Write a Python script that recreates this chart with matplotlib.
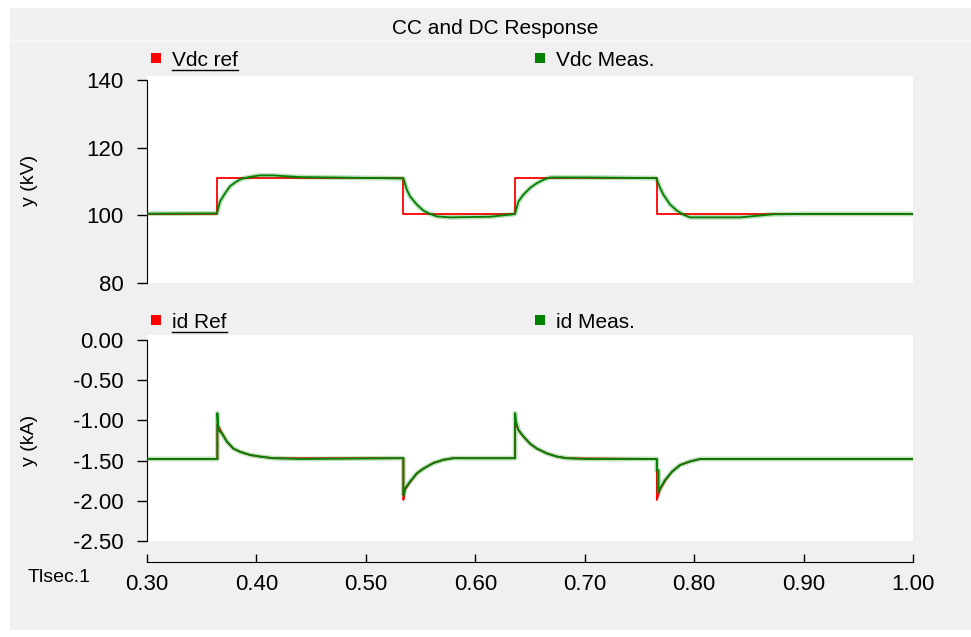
import numpy as np
import matplotlib.pyplot as plt
from matplotlib.patches import Rectangle
from matplotlib.lines import Line2D

plt.rcParams['font.family'] = ['Liberation Sans Narrow', 'Liberation Sans', 'DejaVu Sans']

# DC voltage reference and measurement (kV)
t_vref = [0.30, 0.364, 0.364, 0.534, 0.534, 0.636, 0.636, 0.766, 0.766, 1.00]
vdc_ref = [100.5, 100.5, 111.0, 111.0, 100.5, 100.5, 111.0, 111.0, 100.5, 100.5]

t_vmeas = [0.30, 0.364, 0.3667, 0.3713, 0.3759, 0.3804, 0.385, 0.3914, 0.403, 0.415,
           0.425, 0.44, 0.47, 0.5344, 0.5374, 0.5404, 0.5465, 0.5526, 0.5587, 0.5648,
           0.577, 0.6135, 0.6346, 0.6364, 0.6394, 0.644, 0.6501, 0.6562, 0.6622, 0.6684,
           0.70, 0.765, 0.766, 0.7689, 0.7719, 0.778, 0.7842, 0.7902, 0.7963, 0.842,
           0.8722, 0.90, 1.00]
vdc_meas = [100.5, 100.6, 104.1, 106.5, 108.6, 109.7, 110.6, 111.2, 111.8, 111.8,
            111.6, 111.3, 111.2, 110.9, 107.6, 105.6, 103.2, 101.4, 100.4, 99.7,
            99.4, 99.6, 100.3, 100.5, 104.1, 106.1, 108.1, 109.5, 110.5, 111.2,
            111.2, 111.0, 110.5, 108.1, 106.1, 103.2, 101.4, 100.2, 99.4, 99.4,
            100.3, 100.4, 100.4]

# d-axis current reference and measurement (kA)
t_iref = [0.30, 0.3643, 0.3643, 0.3683, 0.3728, 0.3789, 0.385, 0.3941, 0.4033, 0.4152,
          0.5343, 0.5343, 0.5358, 0.5404, 0.5465, 0.5526, 0.5617, 0.5709, 0.58, 0.6364,
          0.6364, 0.6394, 0.644, 0.6501, 0.6562, 0.6653, 0.6745, 0.6836, 0.7659, 0.7659,
          0.7689, 0.7735, 0.7796, 0.7872, 0.7963, 0.8055, 1.00]
id_ref = [-1.48, -1.48, -1.045, -1.15, -1.26, -1.35, -1.39, -1.43, -1.45, -1.47,
          -1.47, -1.99, -1.86, -1.77, -1.66, -1.60, -1.53, -1.49, -1.47, -1.47,
          -1.02, -1.12, -1.20, -1.29, -1.35, -1.41, -1.45, -1.47, -1.48, -1.99,
          -1.86, -1.75, -1.64, -1.555, -1.51, -1.48, -1.48]

t_imeas = [0.30, 0.3643, 0.3643, 0.3652, 0.3683, 0.3728, 0.3789, 0.385, 0.3941, 0.4033,
           0.4152, 0.44, 0.5343, 0.5343, 0.5358, 0.5404, 0.5465, 0.5526, 0.5617, 0.5709,
           0.58, 0.6364, 0.6364, 0.6373, 0.6394, 0.644, 0.6501, 0.6562, 0.6653, 0.6745,
           0.6836, 0.70, 0.7659, 0.7659, 0.7675, 0.7675, 0.7689, 0.7735, 0.7796, 0.7872,
           0.7963, 0.8055, 1.00]
id_meas = [-1.48, -1.48, -0.91, -1.12, -1.16, -1.26, -1.35, -1.39, -1.43, -1.45,
           -1.47, -1.48, -1.47, -1.93, -1.845, -1.76, -1.66, -1.60, -1.53, -1.49,
           -1.47, -1.47, -0.91, -1.02, -1.12, -1.20, -1.29, -1.35, -1.41, -1.45,
           -1.47, -1.48, -1.48, -1.62, -1.62, -1.89, -1.845, -1.74, -1.64, -1.555,
           -1.51, -1.48, -1.48]

x_ticks = [0.30, 0.40, 0.50, 0.60, 0.70, 0.80, 0.90, 1.00]
v_ticks = [80, 100, 120, 140]
i_ticks = [0.00, -0.50, -1.00, -1.50, -2.00, -2.50]

W, H = 971, 637
fig = plt.figure(figsize=(W / 100, H / 100), dpi=100, facecolor='white')

# grey panel behind everything
fig.patches.append(Rectangle((10 / W, 1 - 630 / H), 961 / W, 622 / H,
                             transform=fig.transFigure, facecolor='#f0f0f0',
                             edgecolor='none', zorder=-10))
fig.lines.append(Line2D([10 / W, 1], [1 - 41 / H, 1 - 41 / H], transform=fig.transFigure,
                        color='#f7f7f7', lw=1.5))

def px_ax(x0, y0, x1, y1):
    return fig.add_axes([x0 / W, 1 - y1 / H, (x1 - x0) / W, (y1 - y0) / H])

red = '#ff0000'
green = '#008000'

ax1 = px_ax(147, 76, 913, 283)
ax2 = px_ax(147, 335, 913, 541)

ax1.plot(t_vref, vdc_ref, color=red, lw=1.3, zorder=2)
ax1.plot(t_vmeas, vdc_meas, color=green, lw=3.5, alpha=0.25, zorder=3)
ax1.plot(t_vmeas, vdc_meas, color=green, lw=1.3, zorder=4)
ax1.set_ylim(80, 140 + 4 / 3.383)
ax1.set_yticks(v_ticks)
ax1.set_yticklabels([str(v) for v in v_ticks])

ax2.plot(t_iref, id_ref, color=red, lw=1.3, zorder=2)
ax2.plot(t_imeas, id_meas, color=green, lw=3.5, alpha=0.25, zorder=3)
ax2.plot(t_imeas, id_meas, color=green, lw=1.3, zorder=4)
ax2.set_ylim(-2.5, 5 / 80.4)
ax2.set_yticks(i_ticks)
ax2.set_yticklabels(['%.2f' % v for v in i_ticks])

for ax in (ax1, ax2):
    ax.set_xlim(0.30, 1.00)
    ax.set_facecolor('white')
    ax.spines['top'].set_visible(False)
    ax.spines['right'].set_visible(False)
    ax.tick_params(axis='y', direction='out', length=7, width=1, pad=10, labelsize=16)

ax1.spines['left'].set_bounds(80, 140)
ax2.spines['left'].set_bounds(-2.5, 0.0)

ax1.spines['bottom'].set_visible(False)
ax1.set_xticks([])

ax2.spines['bottom'].set_position(('outward', 15))
ax2.spines['bottom'].set_bounds(0.30, 1.00)
ax2.set_xticks(x_ticks)
ax2.set_xticklabels(['%.2f' % v for v in x_ticks])
ax2.tick_params(axis='x', direction='in', length=6, width=1, pad=9, labelsize=16)

# titles and labels
fig.text(495 / W, 1 - 28 / H, 'CC and DC Response', ha='center', va='center', fontsize=15)
fig.text(30 / W, 1 - 180 / H, 'y (kV)', rotation=90, ha='center', va='center', fontsize=14)
fig.text(30 / W, 1 - 440 / H, 'y (kA)', rotation=90, ha='center', va='center', fontsize=14)
fig.text(28 / W, 1 - 578 / H, 'Tlsec.1', ha='left', va='center', fontsize=14)

# legends
def legend_item(x, y, color, label, underline):
    fig.patches.append(Rectangle((x / W, 1 - (y + 5) / H), 10 / W, 10 / H,
                                 transform=fig.transFigure, facecolor=color,
                                 edgecolor='none'))
    txt = fig.text((x + 21) / W, 1 - (y + 2) / H, label, ha='left', va='center',
                   fontsize=15)
    if underline:
        fig.canvas.draw()
        bb = txt.get_window_extent()
        fig.lines.append(Line2D([bb.x0 / W, bb.x1 / W], [1 - (y + 12) / H] * 2,
                                transform=fig.transFigure, color='black', lw=1))

legend_item(151, 58, red, 'Vdc ref', True)
legend_item(535, 58, green, 'Vdc Meas.', False)
legend_item(151, 320, red, 'id Ref', True)
legend_item(535, 320, green, 'id Meas.', False)

fig.savefig('out.png', dpi=100, facecolor='white')
